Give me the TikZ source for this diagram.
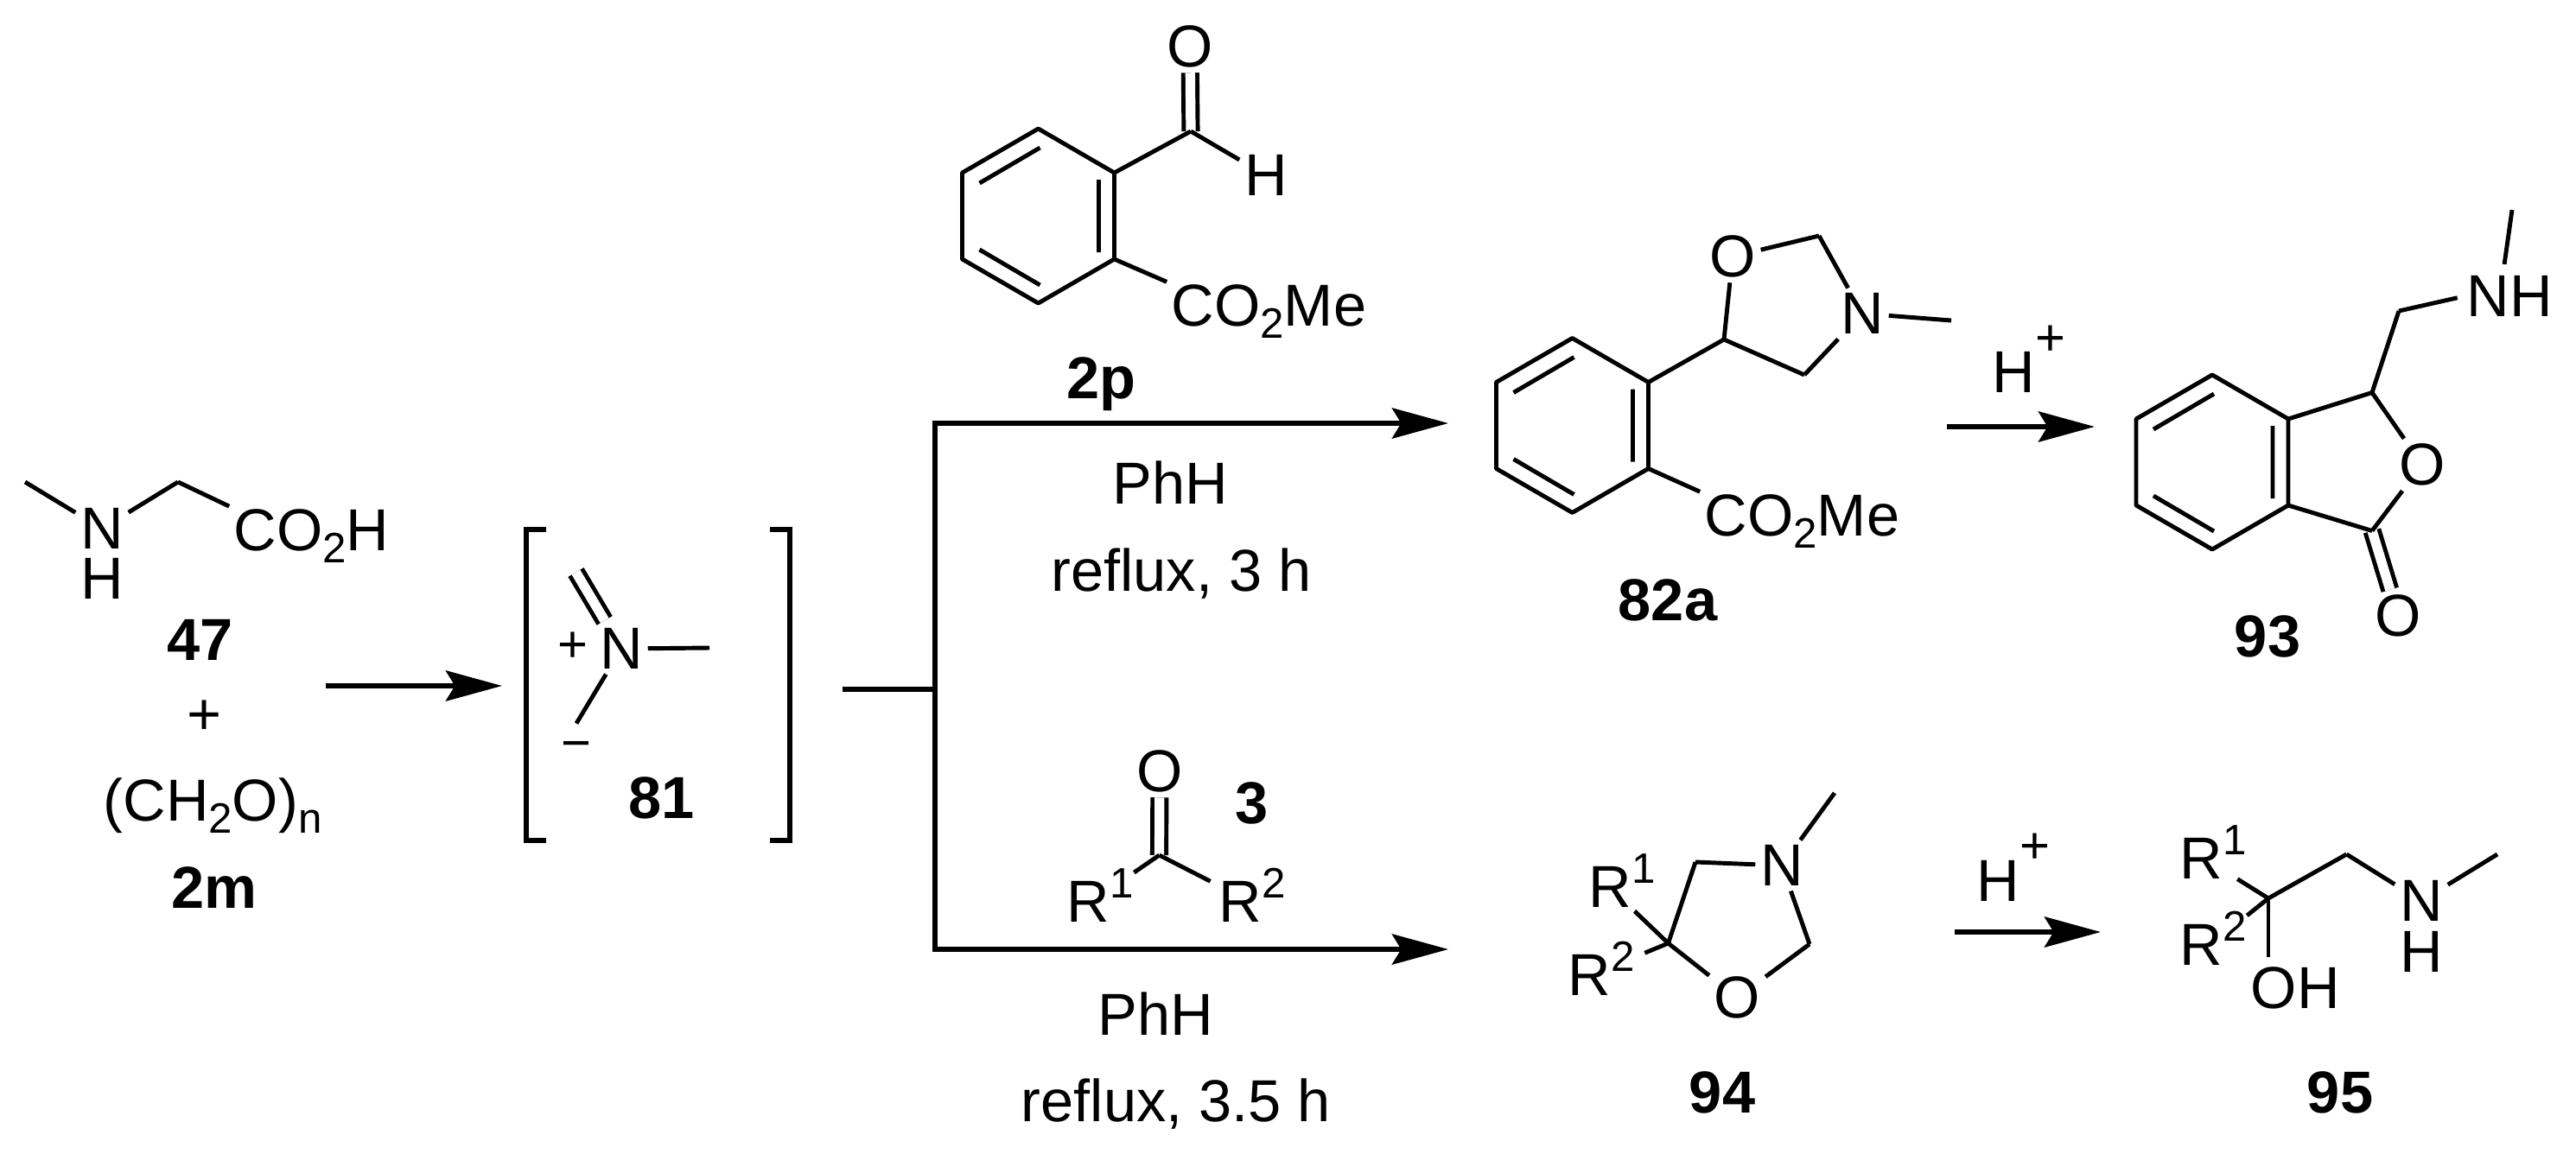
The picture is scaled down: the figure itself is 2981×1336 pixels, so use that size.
\documentclass[tikz,border=0pt]{standalone}
\usepackage{fontspec}
\setmainfont{Liberation Sans}
\usetikzlibrary{arrows.meta}
\newcommand{\atomsub}[1]{\raisebox{-4pt}{\fontsize{14}{14}\selectfont #1}}
\newcommand{\atomsup}[1]{\raisebox{7.7pt}{\fontsize{14}{14}\selectfont #1}}
\newcommand{\protonsup}{\raisebox{12.3pt}{\fontsize{17}{17}\selectfont +}}

\begin{document}
\begin{tikzpicture}[x=0.01cm,y=-0.01cm,>={Stealth[length=18.5pt,width=10pt,inset=3pt]},
	atom node/.style={font=\fontsize{19.5}{22}\selectfont,inner sep=1.5pt},
	hydrogen node/.style={font=\fontsize{19.5}{22}\selectfont,inner sep=0pt},
	group node/.style={font=\fontsize{19.5}{22}\selectfont,inner sep=0pt,anchor=base west},
	cond node/.style={font=\fontsize{19.5}{22}\selectfont,inner sep=0pt,anchor=base},
	cmpd node/.style={font=\fontsize{19.5}{22}\selectfont\bfseries,inner sep=0pt,anchor=base},
	charge node/.style={font=\fontsize{17}{17}\selectfont,inner sep=0pt},
	bond line/.style={line width=1.4pt,line join=round},
	dbond line/.style={bond line,double,double distance=3.2pt},
	rxn line/.style={line width=1.7pt},
	bracket line/.style={line width=1.7pt},
	pics/benzene/.style={code={
		\coordinate (-t) at (0,-101);
		\coordinate (-ur) at (88,-50);
		\coordinate (-lr) at (88,50);
		\coordinate (-b) at (0,101);
		\coordinate (-ll) at (-88,50);
		\coordinate (-ul) at (-88,-50);
		\draw[bond line] (-t) -- (-ur) -- (-lr) -- (-b) -- (-ll) -- (-ul) -- cycle;
		\draw[bond line] (-68,-38) -- (2,-79) (70,-42) -- (70,42) (-68,39) -- (2,80);
	}}]
	\useasboundingbox (0,0) rectangle (2981,1336);

	% Compound 47, paraformaldehyde
	\coordinate (me47) at (29,558);
	\coordinate (c47) at (206,558);
	\node[atom node] (n47) at (118,612) {N};
	\node[hydrogen node] (h47) at (118,670) {H};
	\node[group node] (acid47) at (270,637) {CO\atomsub{2}H};
	\draw[bond line] (me47) -- (n47);
	\draw[bond line] (n47) -- (c47);
	\draw[bond line,shorten >=1.5pt] (c47) -- (acid47.north west);
	\node[cmpd node] (lab47) at (232,764) {47};
	\node[cond node] (plus47) at (237,850) {+};
	\node[group node] (ch2o) at (119,950) {(CH\atomsub{2}O)\atomsub{n}};
	\node[cmpd node] (lab2m) at (248,1051) {2m};

	% First arrow and bracket with 81
	\coordinate (a1s) at (377,794);
	\coordinate (a1e) at (581,794);
	\draw[rxn line,->] (a1s) -- (a1e);
	\coordinate (bl1) at (632,613);
	\coordinate (bl2) at (609,613);
	\coordinate (bl3) at (609,973);
	\coordinate (bl4) at (632,973);
	\coordinate (br1) at (891,613);
	\coordinate (br2) at (914,613);
	\coordinate (br3) at (914,973);
	\coordinate (br4) at (891,973);
	\draw[bracket line] (bl1) -- (bl2) -- (bl3) -- (bl4);
	\draw[bracket line] (br1) -- (br2) -- (br3) -- (br4);
	\node[atom node] (n81) at (719,751) {N};
	\node[charge node] (pos81) at (663,749) {+};
	\node[charge node] (neg81) at (667,869) {−};
	\coordinate (ch81) at (666.5,662.5);
	\coordinate (me81) at (821,750);
	\coordinate (cm81) at (667,837.5);
	\draw[dbond line,shorten >=1pt] (ch81) -- (n81);
	\draw[bond line] (n81) -- (me81);
	\draw[bond line] (n81) -- (cm81);
	\node[cmpd node] (lab81) at (766,947) {81};

	% Branch with the two arrows
	\coordinate (js) at (975,798);
	\coordinate (jm) at (1082,798);
	\coordinate (jt) at (1082,490);
	\coordinate (jb) at (1082,1099);
	\coordinate (tipt) at (1676,490);
	\coordinate (tipb) at (1676,1099);
	\draw[rxn line] (js) -- (jm);
	\draw[rxn line,<->] (tipt) -- (jt) -- (jb) -- (tipb);

	% Compound 2p
	\pic (r2p) at (1201.5,250) {benzene};
	\coordinate (c2p) at (1378,152);
	\node[atom node] (o2p) at (1377,54) {O};
	\node[atom node] (h2p) at (1465,203) {H};
	\node[group node] (est2p) at (1355,377) {CO\atomsub{2}Me};
	\draw[dbond line] (o2p) -- (c2p);
	\draw[bond line] (r2p-ur) -- (c2p);
	\draw[bond line] (c2p) -- (h2p);
	\draw[bond line,shorten >=1.5pt] (r2p-lr) -- (est2p.north west);
	\node[cmpd node] (lab2p) at (1274,461) {2p};
	\node[cond node] (phh1) at (1354,583) {PhH};
	\node[cond node] (rfx1) at (1367,684) {reflux, 3 h};

	% Compound 3
	\coordinate (c3) at (1341.5,990);
	\node[atom node] (o3) at (1342,893) {O};
	\node[group node] (ra3) at (1234,1067) {R\atomsup{1}};
	\node[group node] (rb3) at (1410,1067) {R\atomsup{2}};
	\draw[dbond line] (o3) -- (c3);
	\draw[bond line] (c3) -- (ra3.34);
	\draw[bond line,shorten >=3pt] (c3) -- (rb3.164);
	\node[cmpd node] (lab3) at (1449,953) {3};
	\node[cond node] (phh2) at (1337,1198) {PhH};
	\node[cond node] (rfx2) at (1361,1298) {reflux, 3.5 h};

	% Compound 82a
	\pic (r82) at (1819.5,492.5) {benzene};
	\coordinate (c82) at (1995,393);
	\coordinate (b82) at (2105,273);
	\coordinate (d82) at (2088,434);
	\coordinate (me82) at (2258,371);
	\node[atom node] (o82) at (2005,297) {O};
	\node[atom node] (n82) at (2155,363) {N};
	\node[group node] (est82) at (1972,620) {CO\atomsub{2}Me};
	\draw[bond line] (r82-ur) -- (c82) -- (d82);
	\draw[bond line] (c82) -- (o82);
	\draw[bond line] (o82) -- (b82);
	\draw[bond line] (b82) -- (n82);
	\draw[bond line] (d82) -- (n82);
	\draw[bond line] (n82) -- (me82);
	\draw[bond line,shorten >=1.5pt] (r82-lr) -- (est82.north west);
	\node[cmpd node] (lab82) at (1930,718) {82a};

	% Acid step to 93
	\coordinate (a2s) at (2253,494);
	\coordinate (a2e) at (2424,494);
	\draw[rxn line,->] (a2s) -- (a2e);
	\node[group node] (acid93) at (2305,454.5) {H\protonsup};

	% Compound 93
	\pic (r93) at (2560,535) {benzene};
	\coordinate (c93) at (2745,454.5);
	\coordinate (k93) at (2745,614.5);
	\coordinate (ch93) at (2776,360);
	\coordinate (me93) at (2907,243);
	\node[atom node] (o93) at (2803,538) {O};
	\node[atom node] (ok93) at (2775,713) {O};
	\node[group node] (nh93) at (2854,366) {NH};
	\draw[dbond line] (k93) -- (ok93);
	\draw[bond line] (r93-ur) -- (c93);
	\draw[bond line] (r93-lr) -- (k93);
	\draw[bond line] (c93) -- (o93);
	\draw[bond line] (k93) -- (o93);
	\draw[bond line] (c93) -- (ch93);
	\draw[bond line,shorten >=3pt] (ch93) -- (nh93.west);
	\draw[bond line,shorten <=3.5pt] (nh93.108) -- (me93);
	\node[cmpd node] (lab93) at (2624,760) {93};

	% Compound 94
	\coordinate (q94) at (1930.5,1092);
	\coordinate (t94) at (1962,998);
	\coordinate (d94) at (2094,1093);
	\coordinate (me94) at (2123,918);
	\node[atom node] (n94) at (2062,1002) {N};
	\node[atom node] (o94) at (2010.5,1155) {O};
	\node[group node] (ra94) at (1838,1050) {R\atomsup{1}};
	\node[group node] (rb94) at (1814,1152) {R\atomsup{2}};
	\draw[bond line] (q94) -- (t94);
	\draw[bond line] (t94) -- (n94);
	\draw[bond line] (n94) -- (me94);
	\draw[bond line] (n94) -- (d94);
	\draw[bond line] (d94) -- (o94);
	\draw[bond line] (q94) -- (o94);
	\draw[bond line,shorten >=1.7pt] (q94) -- (ra94.-72);
	\draw[bond line,shorten >=3.4pt] (q94) -- (rb94.19);
	\node[cmpd node] (lab94) at (1993,1288) {94};

	% Acid step to 95
	\coordinate (a3s) at (2262,1079);
	\coordinate (a3e) at (2431,1079);
	\draw[rxn line,->] (a3s) -- (a3e);
	\node[group node] (acid95) at (2287,1043) {H\protonsup};

	% Compound 95
	\coordinate (q95) at (2625,1040);
	\coordinate (t95) at (2715.5,989);
	\coordinate (me95) at (2890,989);
	\node[atom node] (n95) at (2802,1043) {N};
	\node[hydrogen node] (h95) at (2802,1102) {H};
	\node[group node] (ra95) at (2522,1017) {R\atomsup{1}};
	\node[group node] (rb95) at (2522,1117) {R\atomsup{2}};
	\node[group node] (oh95) at (2604,1167) {OH};
	\draw[bond line] (q95) -- (t95);
	\draw[bond line] (t95) -- (n95);
	\draw[bond line] (n95) -- (me95);
	\draw[bond line] (q95) -- (ra95.-48);
	\draw[bond line] (q95) -- (rb95.34);
	\draw[bond line,shorten >=3pt] (q95) -- (q95 |- oh95.north);
	\node[cmpd node] (lab95) at (2708,1288) {95};
\end{tikzpicture}
\end{document}
